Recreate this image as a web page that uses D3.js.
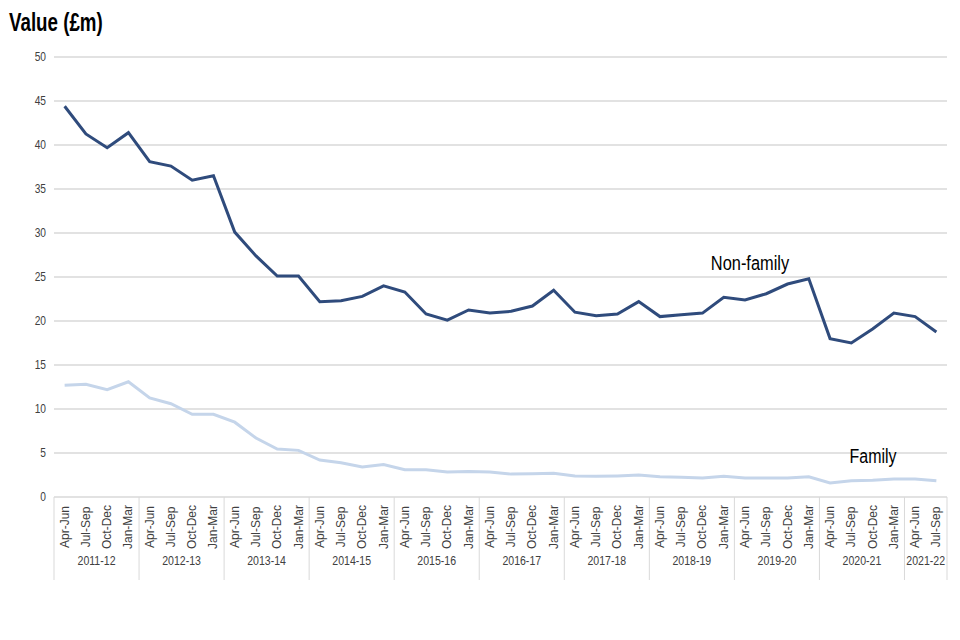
<!DOCTYPE html>
<html>
<head>
<meta charset="utf-8">
<script src="https://cdn.jsdelivr.net/npm/d3@7"></script>
<style>
  body { margin: 0; background: #fff; }
  text { font-family: "Liberation Sans", Arial, sans-serif; }
</style>
</head>
<body>
<script>
/* Data */
const years = ["2011-12", "2012-13", "2013-14", "2014-15", "2015-16", "2016-17",
  "2017-18", "2018-19", "2019-20", "2020-21", "2021-22"]
const quarterNames = ["Apr-Jun", "Jul-Sep", "Oct-Dec", "Jan-Mar"]
const nonFamily = [44.4, 41.25, 39.7, 41.4, 38.1, 37.6, 36.0, 36.5, 30.1, 27.4,
  25.1, 25.1, 22.2, 22.3, 22.8, 24.0, 23.3, 20.8, 20.1, 21.25,
  20.9, 21.1, 21.7, 23.5, 21.0, 20.6, 20.8, 22.2, 20.5, 20.7,
  20.9, 22.7, 22.4, 23.1, 24.2, 24.8, 18.0, 17.5, 19.1, 20.9,
  20.5, 18.75]
const family = [12.7, 12.8, 12.2, 13.1, 11.25, 10.6, 9.4, 9.4, 8.5, 6.7,
  5.45, 5.3, 4.2, 3.9, 3.4, 3.7, 3.1, 3.1, 2.85, 2.9,
  2.85, 2.6, 2.65, 2.7, 2.4, 2.35, 2.4, 2.5, 2.3, 2.25,
  2.15, 2.35, 2.15, 2.15, 2.15, 2.3, 1.6, 1.85, 1.9, 2.05,
  2.05, 1.85]
const yTicks = [0, 5, 10, 15, 20, 25, 30, 35, 40, 45, 50]

/* Build the quarter list */
const quarters = []
years.forEach(yr => {
  quarterNames.forEach(q => {
    if (quarters.length < nonFamily.length) quarters.push({ year: yr, q: q, key: yr + " " + q })
  })
})

/* Size */
const width = 960
const height = 640
const plotLeft = 54, plotRight = 947, plotTop = 57, plotBottom = 497

const svg = d3.select("body").append("svg")
  .attr("width", width)
  .attr("height", height)

const x = d3.scaleBand()
  .domain(quarters.map(d => d.key))
  .range([plotLeft, plotRight])

const y = d3.scaleLinear()
  .domain([0, 50])
  .range([plotBottom, plotTop])

/* Gridlines */
svg.append("g")
  .selectAll("line")
  .data(yTicks.filter(d => d > 0))
  .enter().append("line")
  .attr("x1", plotLeft).attr("x2", plotRight)
  .attr("y1", d => y(d)).attr("y2", d => y(d))
  .attr("stroke", "#d9d9d9")
  .attr("stroke-width", 1.5)

/* Y-axis labels */
svg.append("g")
  .selectAll("text")
  .data(yTicks)
  .enter().append("text")
  .attr("transform", d => `translate(46,${y(d) + 4}) scale(0.85,1)`)
  .attr("text-anchor", "end")
  .attr("font-size", 12)
  .attr("fill", "#404040")
  .text(d => d)

/* Category axis */
const axisG = svg.append("g")
axisG.append("line")
  .attr("x1", plotLeft).attr("x2", plotRight)
  .attr("y1", plotBottom).attr("y2", plotBottom)
  .attr("stroke", "#d9d9d9").attr("stroke-width", 1.5)

const bounds = years.map(yr => {
  const qs = quarters.filter(d => d.year === yr)
  return { year: yr, x0: x(qs[0].key), x1: x(qs[qs.length - 1].key) + x.bandwidth() }
})

axisG.selectAll(".sep")
  .data([plotLeft].concat(bounds.map(b => b.x1)))
  .enter().append("line")
  .attr("x1", d => d).attr("x2", d => d)
  .attr("y1", plotBottom).attr("y2", 580)
  .attr("stroke", "#d9d9d9").attr("stroke-width", 1)

axisG.selectAll(".qlab")
  .data(quarters)
  .enter().append("text")
  .attr("transform", d => `translate(${x(d.key) + x.bandwidth() / 2 + 4},527) rotate(-90)`)
  .attr("text-anchor", "middle")
  .attr("font-size", 12)
  .attr("fill", "#404040")
  .text(d => d.q)

axisG.selectAll(".ylab")
  .data(bounds)
  .enter().append("text")
  .attr("transform", d => `translate(${(d.x0 + d.x1) / 2},565) scale(0.88,1)`)
  .attr("text-anchor", "middle")
  .attr("font-size", 12)
  .attr("fill", "#404040")
  .text(d => d.year)

/* Lines */
const line = d3.line()
  .x((d, i) => x(quarters[i].key) + x.bandwidth() / 2)
  .y(d => y(d))

svg.append("path")
  .datum(family)
  .attr("d", line)
  .attr("fill", "none")
  .attr("stroke", "#c5d5ea")
  .attr("stroke-width", 3)

svg.append("path")
  .datum(nonFamily)
  .attr("d", line)
  .attr("fill", "none")
  .attr("stroke", "#2f4b7c")
  .attr("stroke-width", 3)

/* Labels */
svg.append("text")
  .attr("transform", "translate(750,270) scale(0.78,1)")
  .attr("text-anchor", "middle")
  .attr("font-size", 21)
  .attr("fill", "#000")
  .text("Non-family")

svg.append("text")
  .attr("transform", "translate(873,463) scale(0.76,1)")
  .attr("text-anchor", "middle")
  .attr("font-size", 21)
  .attr("fill", "#000")
  .text("Family")

svg.append("text")
  .attr("transform", "translate(9,31) scale(0.75,1)")
  .attr("font-size", 25)
  .attr("font-weight", "bold")
  .attr("fill", "#000")
  .text("Value (£m)")
</script>
</body>
</html>
